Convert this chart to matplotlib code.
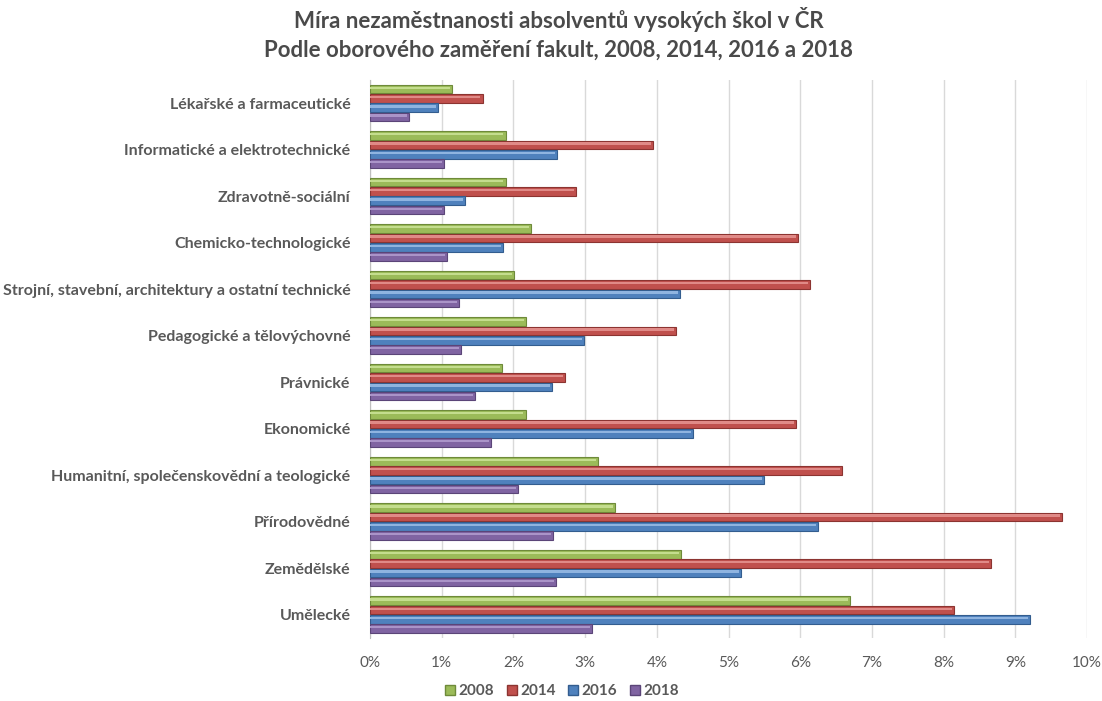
import numpy as np
import matplotlib.pyplot as plt
from matplotlib.patches import Patch

plt.rcParams['font.family'] = ['Lato', 'DejaVu Sans']

categories = ["Lékařské a farmaceutické", "Informatické a elektrotechnické", "Zdravotně-sociální",
              "Chemicko-technologické", "Strojní, stavební, architektury a ostatní technické",
              "Pedagogické a tělovýchovné", "Právnické", "Ekonomické",
              "Humanitní, společenskovědní a teologické", "Přírodovědné", "Zemědělské", "Umělecké"]
years = ["2008", "2014", "2016", "2018"]
v2008 = [1.14, 1.89, 1.89, 2.25, 2.01, 2.18, 1.84, 2.17, 3.18, 3.42, 4.34, 6.69]
v2014 = [1.57, 3.95, 2.87, 5.97, 6.14, 4.27, 2.72, 5.94, 6.58, 9.65, 8.66, 8.15]
v2016 = [0.95, 2.61, 1.32, 1.86, 4.32, 2.99, 2.54, 4.50, 5.49, 6.25, 5.17, 9.21]
v2018 = [0.54, 1.03, 1.03, 1.07, 1.24, 1.27, 1.46, 1.69, 2.07, 2.55, 2.60, 3.10]
series = [v2008, v2014, v2016, v2018]
colors = ["#9bbb59", "#c0504d", "#4f81bd", "#8064a2"]
edges = ["#6e8a3a", "#8c3431", "#335d8f", "#5b4578"]
lights = ["#c4dd8e", "#e08a87", "#8fb4e0", "#aa94c8"]

fig = plt.figure(figsize=(11.02, 7.01), dpi=100)
ax = fig.add_axes([0.3358, 0.0899, 0.6506, 0.7962])

y = np.arange(len(categories))
h = 0.2
for i, vals in enumerate(series):
    pos = y - 0.3 + i * h
    ax.barh(pos, vals, height=h * 0.92, color=colors[i], edgecolor=edges[i], linewidth=0.8, zorder=3)
    ax.barh(pos - h * 0.15, np.array(vals) - 0.03, height=h * 0.25, color=lights[i], linewidth=0, zorder=4)

ax.set_xlim(0, 10)
ax.set_ylim(len(categories) - 0.5, -0.5)
ax.set_xticks(np.arange(0, 11))
ax.set_xticklabels([f"{t}%" for t in range(11)], fontsize=11, color="#595959")
ax.set_yticks(y)
ax.set_yticklabels(categories, fontsize=11.5, color="#595959", fontweight="bold")
ax.tick_params(length=0, pad=14)
ax.tick_params(axis="x", pad=13)
ax.grid(axis="x", color="#d9d9d9", lw=1, zorder=0)
for s in ["top", "right", "bottom"]:
    ax.spines[s].set_visible(False)
ax.spines["left"].set_color("#bfbfbf")

fig.text(0.507, 0.972, "Míra nezaměstnanosti absolventů vysokých škol v ČR", ha="center", va="center",
         fontsize=16, color="#4a4a4a", fontweight="bold")
fig.text(0.507, 0.929, "Podle oborového zaměření fakult, 2008, 2014, 2016 a 2018", ha="center", va="center",
         fontsize=16, color="#4a4a4a", fontweight="bold")

handles = [Patch(facecolor=c, edgecolor=e) for c, e in zip(colors, edges)]
fig.legend(handles, years, loc="center", bbox_to_anchor=(0.51, 0.014), ncol=4, frameon=False,
           prop={"size": 11, "weight": "bold"}, handlelength=0.65, handleheight=0.65,
           handletextpad=0.25, columnspacing=0.8, labelcolor="#595959")

fig.savefig("out.png", dpi=100)
